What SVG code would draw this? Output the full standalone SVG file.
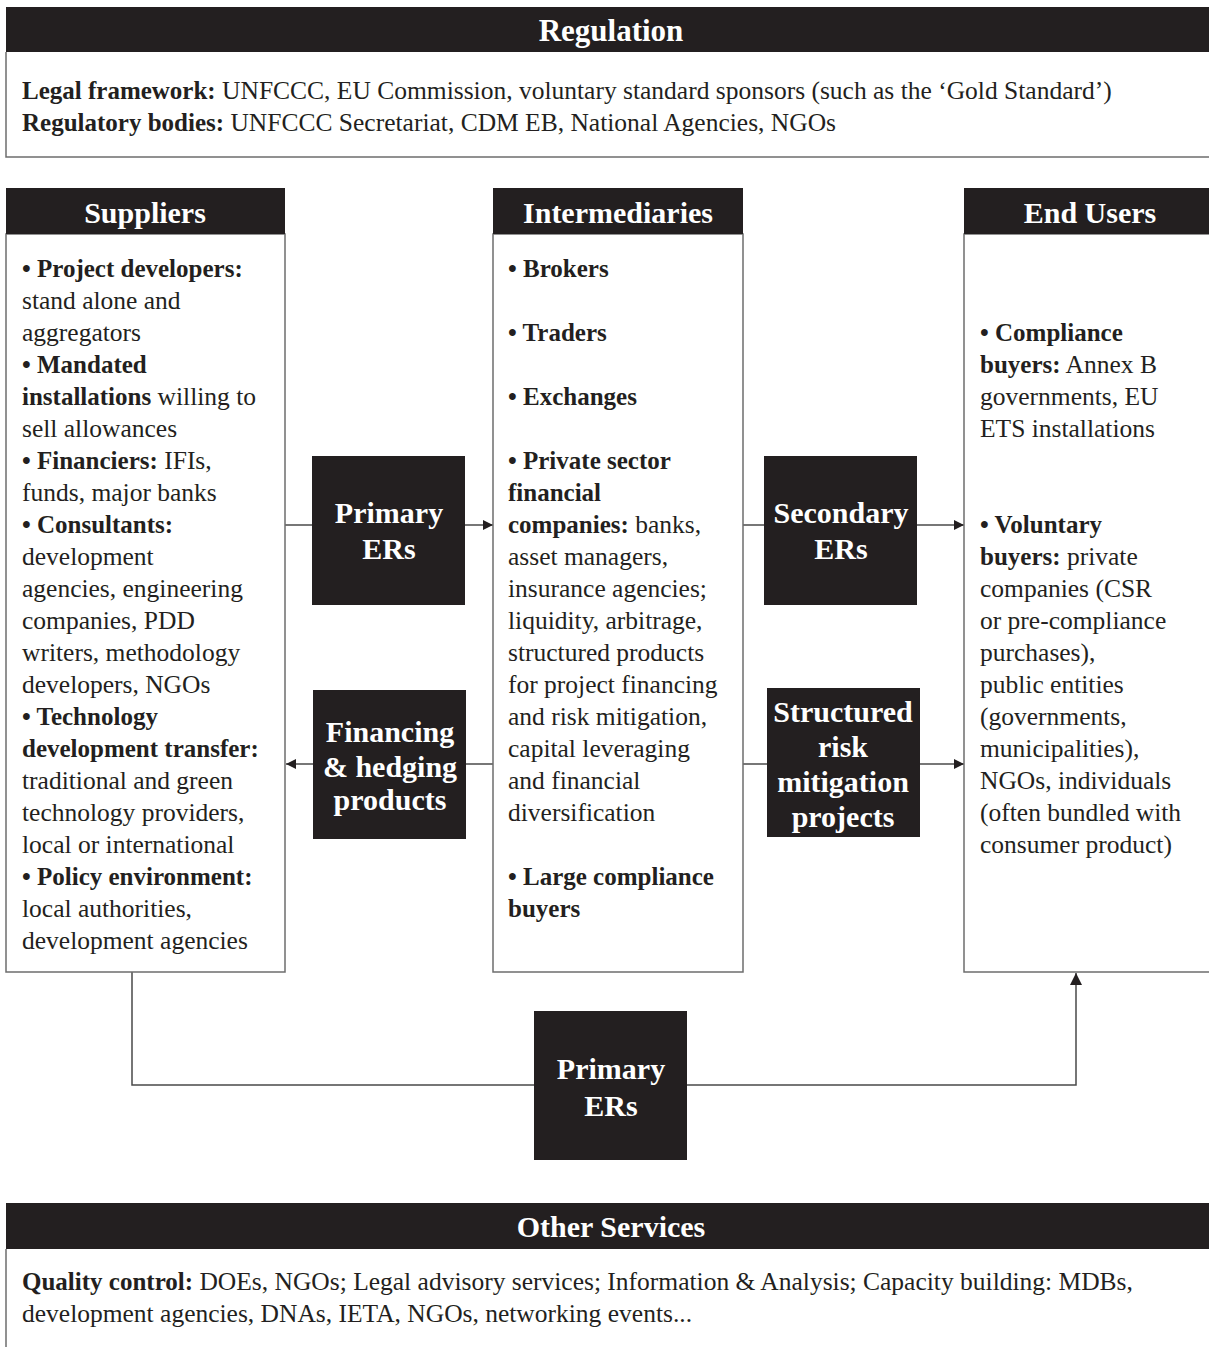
<svg xmlns="http://www.w3.org/2000/svg" width="1209" height="1347" viewBox="0 0 1209 1347">
<defs>
<style>
text{font-family:"Liberation Serif","Times New Roman",serif;fill:#231f20}
.b{font-weight:bold;font-size:25px}
.hd{fill:#231f20}
.ttl{font-size:30px;font-weight:bold;fill:#fff;text-anchor:middle}
.lbl{font-size:30px;font-weight:bold;fill:#fff;text-anchor:middle}
.body{font-size:25.5px}
.frame{fill:#fff;stroke:#6d6d6d;stroke-width:1.5}
.edge{fill:none;stroke:#4a4a4a;stroke-width:1.5}
</style>
<marker id="ah" viewBox="0 0 10 10" refX="10" refY="5" markerWidth="14" markerHeight="10" markerUnits="userSpaceOnUse" orient="auto">
<path d="M0,0 L10,5 L0,10 Z" fill="#231f20"/>
</marker>
<marker id="ahv" viewBox="0 0 10 10" refX="10" refY="5" markerWidth="18" markerHeight="12" markerUnits="userSpaceOnUse" orient="auto">
<path d="M0,0 L10,5 L0,10 Z" fill="#231f20"/>
</marker>
</defs>
<rect width="1209" height="1347" fill="#fff"/>

<g id="regulation">
<path d="M6,52 V157 H1209" class="frame" fill="none"/>
<rect x="6" y="7" width="1203" height="45" class="hd"/>
<text x="611" y="41" class="ttl" style="font-size:31px">Regulation</text>
<text x="22" y="99" class="body"><tspan class="b">Legal framework:</tspan> UNFCCC, EU Commission, voluntary standard sponsors (such as the ‘Gold Standard’)</text>
<text x="22" y="131" class="body"><tspan class="b">Regulatory bodies:</tspan> UNFCCC Secretariat, CDM EB, National Agencies, NGOs</text>
</g>

<g id="connectors">
<line x1="285" y1="525" x2="493" y2="525" class="edge" marker-end="url(#ah)"/>
<line x1="743" y1="525" x2="964" y2="525" class="edge" marker-end="url(#ah)"/>
<line x1="493" y1="764" x2="286" y2="764" class="edge" marker-end="url(#ah)"/>
<line x1="743" y1="764" x2="964" y2="764" class="edge" marker-end="url(#ah)"/>
<polyline points="132,972 132,1085 1076,1085 1076,973" class="edge" marker-end="url(#ahv)"/>
</g>

<g id="suppliers">
<rect x="6" y="234" width="279" height="738" class="frame"/>
<rect x="6" y="188" width="279" height="46" class="hd"/>
<text x="145" y="223" class="ttl">Suppliers</text>
<text class="body">
<tspan x="22" y="277" class="b">• Project developers:</tspan>
<tspan x="22" y="309">stand alone and</tspan>
<tspan x="22" y="341">aggregators</tspan>
<tspan x="22" y="373" class="b">• Mandated</tspan>
<tspan x="22" y="405" class="b">installations</tspan><tspan> willing to</tspan>
<tspan x="22" y="437">sell allowances</tspan>
<tspan x="22" y="469" class="b">• Financiers:</tspan><tspan> IFIs,</tspan>
<tspan x="22" y="501">funds, major banks</tspan>
<tspan x="22" y="533" class="b">• Consultants:</tspan>
<tspan x="22" y="565">development</tspan>
<tspan x="22" y="597">agencies, engineering</tspan>
<tspan x="22" y="629">companies, PDD</tspan>
<tspan x="22" y="661">writers, methodology</tspan>
<tspan x="22" y="693">developers, NGOs</tspan>
<tspan x="22" y="725" class="b">• Technology</tspan>
<tspan x="22" y="757" class="b">development transfer:</tspan>
<tspan x="22" y="789">traditional and green</tspan>
<tspan x="22" y="821">technology providers,</tspan>
<tspan x="22" y="853">local or international</tspan>
<tspan x="22" y="885" class="b">• Policy environment:</tspan>
<tspan x="22" y="917">local authorities,</tspan>
<tspan x="22" y="949">development agencies</tspan>
</text>
</g>

<g id="intermediaries">
<rect x="493" y="234" width="250" height="738" class="frame"/>
<rect x="493" y="188" width="250" height="46" class="hd"/>
<text x="618" y="223" class="ttl">Intermediaries</text>
<text class="body">
<tspan x="508" y="277" class="b">• Brokers</tspan>
<tspan x="508" y="341" class="b">• Traders</tspan>
<tspan x="508" y="405" class="b">• Exchanges</tspan>
<tspan x="508" y="469" class="b">• Private sector</tspan>
<tspan x="508" y="501" class="b">financial</tspan>
<tspan x="508" y="533" class="b">companies:</tspan><tspan> banks,</tspan>
<tspan x="508" y="565">asset managers,</tspan>
<tspan x="508" y="597">insurance agencies;</tspan>
<tspan x="508" y="629">liquidity, arbitrage,</tspan>
<tspan x="508" y="661">structured products</tspan>
<tspan x="508" y="693">for project financing</tspan>
<tspan x="508" y="725">and risk mitigation,</tspan>
<tspan x="508" y="757">capital leveraging</tspan>
<tspan x="508" y="789">and financial</tspan>
<tspan x="508" y="821">diversification</tspan>
<tspan x="508" y="885" class="b">• Large compliance</tspan>
<tspan x="508" y="917" class="b">buyers</tspan>
</text>
</g>

<g id="end-users">
<path d="M1209,234 H964 V972 H1209" class="frame"/>
<rect x="964" y="188" width="245" height="46" class="hd"/>
<text x="1090" y="223" class="ttl">End Users</text>
<text class="body">
<tspan x="980" y="341" class="b">• Compliance</tspan>
<tspan x="980" y="373" class="b">buyers:</tspan><tspan> Annex B</tspan>
<tspan x="980" y="405">governments, EU</tspan>
<tspan x="980" y="437">ETS installations</tspan>
<tspan x="980" y="533" class="b">• Voluntary</tspan>
<tspan x="980" y="565" class="b">buyers:</tspan><tspan> private</tspan>
<tspan x="980" y="597">companies (CSR</tspan>
<tspan x="980" y="629">or pre-compliance</tspan>
<tspan x="980" y="661">purchases),</tspan>
<tspan x="980" y="693">public entities</tspan>
<tspan x="980" y="725">(governments,</tspan>
<tspan x="980" y="757">municipalities),</tspan>
<tspan x="980" y="789">NGOs, individuals</tspan>
<tspan x="980" y="821">(often bundled with</tspan>
<tspan x="980" y="853">consumer product)</tspan>
</text>
</g>

<g id="primary-ers-top">
<rect x="312" y="456" width="153" height="149" class="hd"/>
<text class="lbl"><tspan x="389" y="523">Primary</tspan><tspan x="389" y="559">ERs</tspan></text>
</g>

<g id="secondary-ers">
<rect x="764" y="456" width="153" height="149" class="hd"/>
<text class="lbl"><tspan x="841" y="523">Secondary</tspan><tspan x="841" y="559">ERs</tspan></text>
</g>

<g id="financing-hedging">
<rect x="313" y="690" width="153" height="149" class="hd"/>
<text class="lbl"><tspan x="390" y="742">Financing</tspan><tspan x="390" y="777">&amp; hedging</tspan><tspan x="390" y="810">products</tspan></text>
</g>

<g id="structured-risk">
<rect x="767" y="688" width="153" height="149" class="hd"/>
<text class="lbl"><tspan x="843" y="722">Structured</tspan><tspan x="843" y="757">risk</tspan><tspan x="843" y="792">mitigation</tspan><tspan x="843" y="827">projects</tspan></text>
</g>

<g id="primary-ers-bottom">
<rect x="534" y="1011" width="153" height="149" class="hd"/>
<text class="lbl"><tspan x="611" y="1079">Primary</tspan><tspan x="611" y="1116">ERs</tspan></text>
</g>

<g id="other-services">
<path d="M6,1249 V1347" class="frame" fill="none"/>
<rect x="6" y="1203" width="1203" height="46" class="hd"/>
<text x="611" y="1237" class="ttl">Other Services</text>
<text x="22" y="1290" class="body"><tspan class="b">Quality control:</tspan> DOEs, NGOs; Legal advisory services; Information &amp; Analysis; Capacity building: MDBs,</text>
<text x="22" y="1322" class="body">development agencies, DNAs, IETA, NGOs, networking events...</text>
</g>
</svg>
